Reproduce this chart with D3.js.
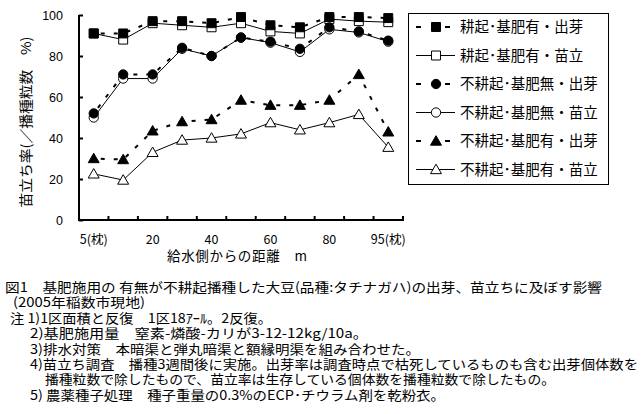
<!DOCTYPE html>
<html>
<head>
<meta charset="utf-8">
<script src="https://cdn.jsdelivr.net/npm/d3@7"></script>
<style>
body { margin: 0; background: #fff; }
text { font-family: "Noto Sans CJK JP", sans-serif; fill: #000; }
</style>
</head>
<body>
<script>
// distance from the inlet side (m), 11 plots
var categories = ["5", "10", "20", "30", "40", "50", "60", "70", "80", "90", "95"];
var tickLabels = ["5(枕)", "", "20", "", "40", "", "60", "", "80", "", "95(枕)"];
var yTicks = [0, 20, 40, 60, 80, 100];

var seriesNames = [
    "耕起･基肥有・出芽",
    "耕起･基肥有・苗立",
    "不耕起･基肥無・出芽",
    "不耕起･基肥無・苗立",
    "不耕起･基肥有・出芽",
    "不耕起･基肥有・苗立"
];
var tillFertEmerge = [91, 91, 97, 97, 96, 99, 95, 94, 99, 99, 98.5];
var tillFertStand = [91, 88, 96, 95, 94, 96, 92, 91, 98, 97, 96.5];
var noTillNoFertEmerge = [52, 71, 71, 84, 80, 89, 87, 83.5, 94, 92, 87.5];
var noTillNoFertStand = [50, 69, 69, 83.5, 80, 89, 86.5, 82, 93, 91.5, 87];
var noTillFertEmerge = [30, 29.5, 43.5, 48, 49, 58.5, 56, 56, 58.5, 71, 43];
var noTillFertStand = [22.5, 19.5, 33, 39, 40, 42, 47.5, 44, 47.5, 51.5, 35.5];

var captionLines = [
    "図1　基肥施用の 有無が不耕起播種した大豆(品種:タチナガハ)の出芽、苗立ちに及ぼす影響",
    "(2005年稲数市現地)",
    "注 1)1区面積と反復　1区18ｱｰﾙ。2反復。",
    "2)基肥施用量　窒素-燐酸-カリが3-12-12kg/10a。",
    "3)排水対策　本暗渠と弾丸暗渠と額縁明渠を組み合わせた。",
    "4)苗立ち調査　播種3週間後に実施。出芽率は調査時点で枯死しているものも含む出芽個体数を",
    "播種粒数で除したもので、苗立率は生存している個体数を播種粒数で除したもの。",
    "5) 農薬種子処理　種子重量の0.3%のECP･チウラム剤を乾粉衣。"
];

var series = [
    {name: seriesNames[1], values: tillFertStand, marker: "square", filled: false},
    {name: seriesNames[3], values: noTillNoFertStand, marker: "circle", filled: false},
    {name: seriesNames[5], values: noTillFertStand, marker: "triangle", filled: false},
    {name: seriesNames[0], values: tillFertEmerge, marker: "square", filled: true},
    {name: seriesNames[2], values: noTillNoFertEmerge, marker: "circle", filled: true},
    {name: seriesNames[4], values: noTillFertEmerge, marker: "triangle", filled: true}
];

var svg = d3.select("body").append("svg")
    .attr("width", 643)
    .attr("height", 414);

var x = d3.scaleBand()
    .domain(categories)
    .range([79, 403]);

var y = d3.scaleLinear()
    .domain([0, 100])
    .range([220, 15]);

function cx(d, i) { return x(categories[i]) + x.bandwidth() / 2; }

var symbolType = {square: d3.symbolSquare, circle: d3.symbolCircle, triangle: d3.symbolTriangle};
var symbolSize = {square: 80, circle: 68, triangle: 52};

function drawMarker(sel, s) {
    sel.attr("d", d3.symbol().type(symbolType[s.marker]).size(symbolSize[s.marker]))
        .attr("fill", s.filled ? "#000" : "#fff")
        .attr("stroke", "#000")
        .attr("stroke-width", 1);
}

function styleLine(sel, s) {
    sel.attr("fill", "none")
        .attr("stroke", "#000")
        .attr("stroke-width", s.filled ? 2 : 1)
        .attr("stroke-dasharray", s.filled ? "4,9" : null);
}

var line = d3.line()
    .x(cx)
    .y(function (d) { return y(d); });

// lines first, then markers
series.forEach(function (s) {
    svg.append("path")
        .datum(s.values)
        .attr("d", line)
        .call(styleLine, s)
        .attr("stroke-dashoffset", -7);
});

series.forEach(function (s) {
    svg.append("g")
        .selectAll("path")
        .data(s.values)
        .enter().append("path")
        .attr("transform", function (d, i) {
            var dy = s.marker == "triangle" ? 1 : 0;
            return "translate(" + cx(d, i) + "," + (y(d) + dy) + ")";
        })
        .call(drawMarker, s);
});

// y axis
var yAxis = svg.append("g")
    .attr("transform", "translate(79,0)")
    .call(d3.axisLeft(y).tickValues(yTicks).tickSize(-4).tickPadding(16));
yAxis.select(".domain").remove();
yAxis.selectAll(".tick line").attr("stroke", "#000").attr("stroke-width", 2);
yAxis.selectAll(".tick text").attr("font-size", 12.5)
    .style("font-family", "Arimo, 'Liberation Sans', sans-serif");

// x axis labels
var xAxis = svg.append("g")
    .attr("transform", "translate(0,220)")
    .call(d3.axisBottom(x).tickSize(0).tickPadding(15)
        .tickFormat(function (d, i) { return tickLabels[i]; }));
xAxis.select(".domain").remove();
xAxis.selectAll(".tick text").attr("font-size", 12.5);

// x tick marks at category boundaries
svg.append("g")
    .selectAll("line")
    .data(categories.slice(1).concat(["end"]))
    .enter().append("line")
    .attr("x1", function (d) { return d == "end" ? x.range()[1] : x(d); })
    .attr("x2", function (d) { return d == "end" ? x.range()[1] : x(d); })
    .attr("y1", 220)
    .attr("y2", 216)
    .attr("stroke", "#000")
    .attr("stroke-width", 2);

// axis lines
svg.append("path")
    .attr("d", "M" + x.range()[0] + "," + y(100) + "V" + y(0) + "H" + (x.range()[1] + 1))
    .attr("fill", "none")
    .attr("stroke", "#000")
    .attr("stroke-width", 2);

// axis titles
svg.append("text")
    .attr("transform", "translate(31,122) rotate(-90)")
    .attr("text-anchor", "middle")
    .attr("font-size", 13.5)
    .attr("textLength", 171)
    .attr("lengthAdjust", "spacingAndGlyphs")
    .text("苗立ち率(／播種粒数　%)");

svg.append("text")
    .attr("x", 167)
    .attr("y", 261)
    .attr("font-size", 13.5)
    .attr("textLength", 140)
    .attr("lengthAdjust", "spacing")
    .text("給水側からの距離　m");

// legend
var legend = svg.append("g");
legend.append("rect")
    .attr("x", 408.5)
    .attr("y", 13.5)
    .attr("width", 200)
    .attr("height", 171)
    .attr("fill", "#fff")
    .attr("stroke", "#000");

var legendOrder = [3, 0, 4, 1, 5, 2];
legendOrder.forEach(function (k, i) {
    var s = series[k];
    var ly = 27 + i * 28.5;
    if (s.filled) {
        [416, 445].forEach(function (lx) {
            legend.append("line")
                .attr("x1", lx).attr("x2", lx + 5)
                .attr("y1", ly).attr("y2", ly)
                .attr("stroke", "#000").attr("stroke-width", 2);
        });
    } else {
        legend.append("line")
            .attr("x1", 416).attr("x2", 455)
            .attr("y1", ly).attr("y2", ly)
            .call(styleLine, s);
    }
    legend.append("path")
        .attr("transform", "translate(436," + (ly + (s.marker == "triangle" ? 1 : 0)) + ")")
        .call(drawMarker, s);
    legend.append("text")
        .attr("x", 460)
        .attr("y", ly + 5)
        .attr("font-size", 14.5)
        .text(s.name);
});

// caption and notes
var captionX = [5, 13, 10, 30, 30, 30, 45, 30];
var captionW = [597, 132, 262, 338, 390, 608, 510, 415];
svg.append("g")
    .selectAll("text")
    .data(captionLines)
    .enter().append("text")
    .attr("x", function (d, i) { return captionX[i]; })
    .attr("y", function (d, i) { return 292 + i * 15.4; })
    .attr("font-size", 13)
    .attr("textLength", function (d, i) { return captionW[i]; })
    .attr("lengthAdjust", "spacingAndGlyphs")
    .text(function (d) { return d; });
</script>
</body>
</html>
